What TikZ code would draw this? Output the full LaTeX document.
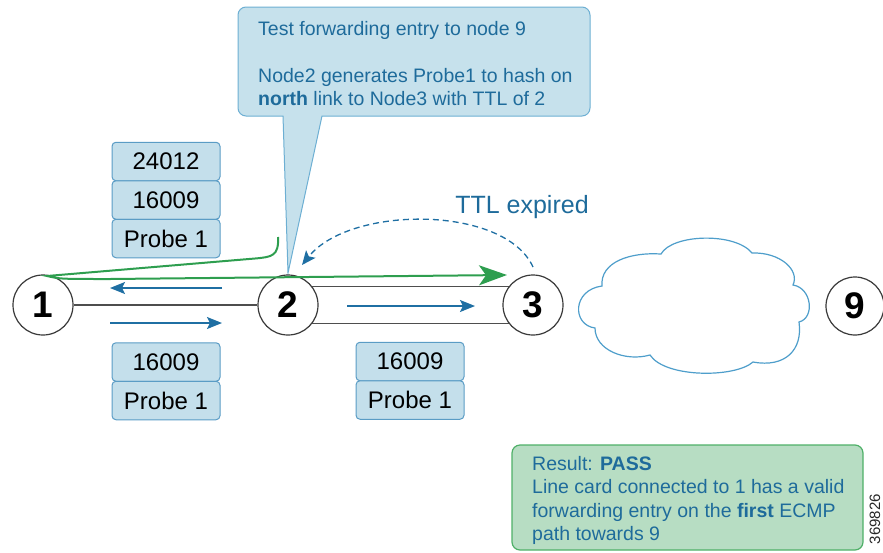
\documentclass[tikz,border=0pt]{standalone}
\usepackage{fontspec}
\setmainfont{Liberation Sans}
\usetikzlibrary{arrows.meta}
\definecolor{textblue}{HTML}{1E6B9B}
\definecolor{calloutfill}{HTML}{C6E1EC}
\definecolor{calloutdraw}{HTML}{6DAFD3}
\definecolor{boxfill}{HTML}{C4DFEB}
\definecolor{boxdraw}{HTML}{5A9CC5}
\definecolor{resfill}{HTML}{B7DDC3}
\definecolor{resdraw}{HTML}{4FB068}
\definecolor{greenline}{HTML}{2E9E4F}
\definecolor{arrowblue}{HTML}{1F6FA3}
\definecolor{cloudblue}{HTML}{4E9ECB}
\definecolor{circgray}{HTML}{3A3A3A}
\begin{document}
\begin{tikzpicture}[x=1pt,y=-1pt,
  router/.style={circle,draw=circgray,line width=1.2pt,fill=white,minimum size=60pt,inner sep=0pt,
    font=\fontsize{37}{40}\selectfont\bfseries},
  link/.style={draw=circgray!90,line width=1.4pt},
  lbl/.style={rectangle,rounded corners=4pt,draw=boxdraw,fill=boxfill,line width=1pt,
    minimum width=108pt,minimum height=38.5pt,inner sep=0pt,font=\fontsize{24}{28}\selectfont},
  flow/.style={draw=arrowblue,line width=1.5pt,-{Stealth[length=15pt,width=12pt,inset=3pt]}},
  txt/.style={text=textblue,align=left,inner sep=0pt,font=\fontsize{19.5}{23.5}\selectfont}
]
\useasboundingbox (0,0) rectangle (883,552);

% callout
\path[draw=calloutdraw,fill=calloutfill,line width=1pt]
  (283,116) -- (288,273) -- (322,116) [rounded corners=8pt] -- (590,116) -- (590,7) -- (238,7) -- (238,116) [sharp corners] -- cycle;
\node[txt,anchor=north west] (callout) at (258,21)
  {Test forwarding entry to node 9\\[23.5pt]
   Node2 generates Probe1 to hash on\\
   \textbf{north} link to Node3 with TTL of 2};

% routers
\node[router] (n1) at (43,305) {1};
\node[router] (n2) at (288,305) {2};
\node[router] (n3) at (533,305) {3};
\node[router,minimum size=58pt] (n9) at (855,306) {9};

% links
\draw[link] (n1) -- (n2);
\draw[link] (n2.37) -- (n3.143);
\draw[link] (n2.-37) -- (n3.-143);

% label stacks
\node[lbl] (s1) at (166,161.5) {24012};
\node[lbl] (s2) at (166,200) {16009};
\node[lbl] (s3) at (166,238.5) {Probe 1};
\node[lbl] (b1) at (166,362) {16009};
\node[lbl] (b2) at (166,400.5) {Probe 1};
\node[lbl] (c1) at (410,361.5) {16009};
\node[lbl] (c2) at (410,400) {Probe 1};

% blue flow arrows
\coordinate (fa1) at (222,288); \coordinate (fa2) at (110,288);
\coordinate (fb1) at (110,323); \coordinate (fb2) at (222,323);
\coordinate (fc1) at (347,306); \coordinate (fc2) at (475,306);
\draw[flow] (fa1) -- (fa2);
\draw[flow] (fb1) -- (fb2);
\draw[flow] (fc1) -- (fc2);

% green probe path
\coordinate (g0) at (278,237);
\coordinate (g1) at (47,276);
\coordinate (g2) at (507,275);
\draw[greenline,line width=2pt,-{Stealth[length=28pt,width=20pt,inset=7pt]}]
  (g0) .. controls (279,256) and (272,257) .. (255,258.5) -- (g1)
  .. controls (60,279) .. (110,279) -- (g2);

% TTL expired
\coordinate (d0) at (533,267);
\coordinate (d1) at (302,265);
\draw[arrowblue,line width=1.3pt,dash pattern=on 6pt off 4pt,-{Stealth[length=14pt,width=12pt,inset=3pt]}]
  (d0) .. controls (505,205) and (350,205) .. (d1);
\node[text=textblue,inner sep=0pt,anchor=base,font=\fontsize{25}{30}\selectfont] (ttl) at (522,213) {TTL expired};

% cloud
\draw[cloudblue,line width=1.2pt,fill=white]
  (661,254) .. controls (672,234) and (735,232) .. (752,253)
  .. controls (780,252) and (800,270) .. (793,285)
  .. controls (812,288) and (815,318) .. (799,322)
  .. controls (803,350) and (785,368) .. (753,362)
  .. controls (735,378) and (665,378) .. (650,355)
  .. controls (625,362) and (595,350) .. (595,328)
  .. controls (572,325) and (572,290) .. (602,286)
  .. controls (600,262) and (630,252) .. (661,254) -- cycle;

% result box
\draw[draw=resdraw,fill=resfill,line width=1.2pt,rounded corners=8pt] (512,445) rectangle (863,550);
\node[txt,anchor=north west] (result) at (532,456)
  {Result: \textbf{PASS}\\
   Line card connected to 1 has a valid\\
   forwarding entry on the \textbf{first} ECMP\\
   path towards 9};

% figure id
\node[rotate=90,inner sep=0pt,text=black!85,font=\fontsize{15}{17}\selectfont] (figid) at (875,519) {369826};
\end{tikzpicture}
\end{document}
